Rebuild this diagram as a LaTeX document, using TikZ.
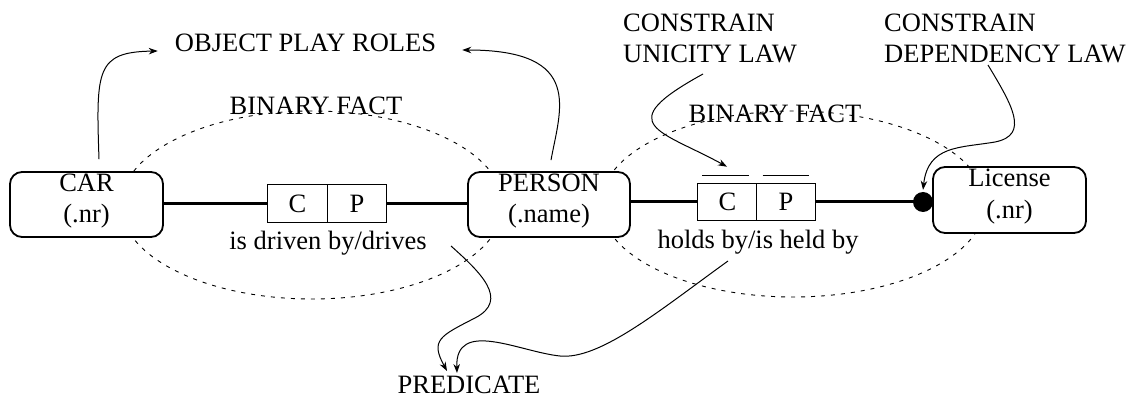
\documentclass[tikz,border=0pt]{standalone}
\usepackage{fontspec}
\setmainfont{Liberation Serif}
\usetikzlibrary{arrows.meta,calc}
% extra depth below the last line of a box label, lifts the two lines a little
\newcommand\labeldrop{\rule[-12.5pt]{0pt}{0pt}}
\begin{document}
\begin{tikzpicture}[x=1pt,y=-1pt,
  every node/.style={font=\fontsize{26.5}{31.5}\selectfont, inner sep=0pt},
  entity/.style={draw, line width=1.8pt, rounded corners=12pt, fill=white,
                 align=center, minimum height=65pt},
  cell/.style={draw, line width=1.1pt, fill=white, minimum width=59.5pt, minimum height=37.5pt},
  link/.style={line width=3pt},
  factline/.style={line width=0.9pt, dash pattern=on 4pt off 6pt},
  note/.style={-{Stealth[length=9pt,width=6.5pt]}, line width=1pt},
  lbl/.style={anchor=base},
  bar/.style={line width=1pt}
]
\useasboundingbox (0,0) rectangle (1140,398);

% the two binary facts
\draw[factline] (312,205) ellipse [x radius=191pt, y radius=94pt];
\draw[factline] (793,204) ellipse [x radius=192pt, y radius=93pt];
\node[lbl] (bf1) at (316,115) {BINARY FACT};
\node[lbl] (bf2) at (775,123) {BINARY FACT};

% object types
\node[entity, minimum width=153pt] (car) at (86.5,204.5) {CAR\\(.nr)\labeldrop};
\node[entity, minimum width=162pt] (person) at (549,204.5) {PERSON\\(.name)\labeldrop};
\node[entity, minimum width=153pt, minimum height=66pt] (license) at (1009.5,200) {License\\(.nr)\labeldrop};

% role boxes
\node[cell] (c1) at (297.5,203.5) {C};
\node[cell] (p1) at (357,203.5) {P};
\node[cell] (c2) at (727.5,202) {C};
\node[cell] (p2) at (786,202) {P};
\node[circle, fill=black, minimum size=20pt] (dep) at (923,202) {};

% uniqueness bars over the roles
\draw[bar] ($(c2.north west)+(5,-7)$) -- ($(c2.north east)+(-9,-7)$);
\draw[bar] ($(p2.north west)+(7,-7)$) -- ($(p2.north east)+(-7,-7)$);

% fact connectors
\draw[link] (c1.west -| car.east) -- (c1.west);
\draw[link] (p1.east) -- (p1.east -| person.west);
\draw[link] (c2.west -| person.east) -- (c2.west);
\draw[link] (p2.east) -- (dep.center);

% predicate readings
\node[lbl] (drv) at (328,249) {is driven by/drives};
\node[lbl] (hld) at (758,248) {holds by/is held by};

% annotations
\node[lbl] (opr) at (305.5,52) {OBJECT PLAY ROLES};
\node[anchor=north west, align=left] (uni) at (623,13.5) {CONSTRAIN\\UNICITY LAW};
\node[anchor=north west, align=left] (dpl) at (884,13.5) {CONSTRAIN\\DEPENDENCY LAW};
\node[lbl] (pred) at (469,393.5) {PREDICATE};

\coordinate (carOut) at ($(car.north)+(12.5,-12)$);
\coordinate (oprL) at ($(opr.base west)+(-17,-1)$);
\coordinate (personOut) at ($(person.north)+(2,-11)$);
\coordinate (oprR) at ($(opr.base east)+(26,-2)$);
\coordinate (uniOut) at (703,74);
\coordinate (uniIn) at ($(c2.north)+(-0.5,-16)$);
\coordinate (depOut) at (988,65);
\coordinate (depIn) at ($(dep.north)+(0,-2)$);
\coordinate (drvOut) at (451,246);
\coordinate (hldOut) at (728,261);
\coordinate (predL) at (447,371);
\coordinate (predR) at (457,373);

\draw[note] (carOut) .. controls (96,70) and (96,52) .. (oprL);
\draw[note] (personOut) .. controls (560,110) and (585,50) .. (oprR);
\draw[note] (uniOut) .. controls (610,125) and (660,130) .. (uniIn);
\draw[note] (depOut) .. controls (1012,105) and (1030,135) .. (995,142)
            .. controls (960,148) and (928,145) .. (depIn);
\draw[note] (drvOut) .. controls (480,272) and (510,300) .. (475,318)
            .. controls (440,336) and (430,340) .. (predL);
\draw[note] (hldOut) .. controls (660,310) and (600,360) .. (560,356)
            .. controls (520,352) and (455,318) .. (predR);
\end{tikzpicture}
\end{document}
